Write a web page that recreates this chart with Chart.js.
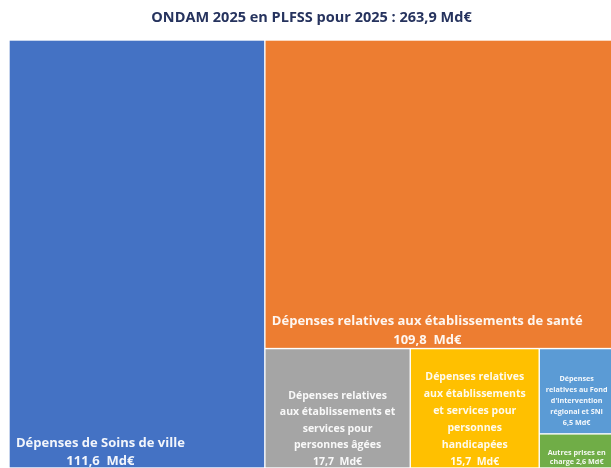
<!DOCTYPE html>
<html><head><meta charset="utf-8">
<script src="https://cdn.jsdelivr.net/npm/chart.js@4.4.1/dist/chart.umd.min.js"></script>
<style>html,body{margin:0;padding:0;background:#fff;overflow:hidden;width:611px;height:468px}canvas{display:block}</style>
</head><body>
<canvas id="c" width="614" height="468"></canvas>
<script>
// ---- data ----
const titleText = "ONDAM 2025 en PLFSS pour 2025 : 263,9 Md€";
const categories = [
  "Dépenses de Soins de ville",
  "Dépenses relatives aux établissements de santé",
  "Dépenses relatives\naux établissements et\nservices pour\npersonnes âgées",
  "Dépenses relatives\naux établissements\net services pour\npersonnes\nhandicapées",
  "Dépenses\nrelatives au Fond\nd'intervention\nrégional et SNI",
  "Autres prises en\ncharge"
];
const values = [111.6, 109.8, 17.7, 15.7, 6.5, 2.6];
const valueLabels = ["111,6  Md€", "109,8  Md€", "17,7  Md€", "15,7  Md€", "6,5 Md€", "2,6 Md€"];
const valueOnSameLine = [false, false, false, false, false, true];

// ---- styles ----
const colors = ["#4472C4", "#ED7D31", "#A5A5A5", "#FFC000", "#5B9BD5", "#70AD47"];
const fontSizes = [13, 13, 10.5, 10.5, 7.2, 7.2];
const lineHeights = [18, 19, 16.5, 17, 11, 9];
const bottomOffsets = [7, 8, 6, 6, 11, 6];
const aligns = ["left", "left", "center", "center", "center", "center"];

function worst(row, side) {
  const s = row.reduce((a, b) => a + b, 0);
  const mx = Math.max(...row), mn = Math.min(...row);
  return Math.max(side * side * mx / (s * s), (s * s) / (side * side * mn));
}
function squarify(vals, x, y, w, h) {
  const total = vals.reduce((a, b) => a + b, 0);
  const k = w * h / total;
  const areas = vals.map(v => v * k);
  const rects = [];
  let i = 0;
  while (i < areas.length) {
    const side = Math.min(w, h);
    let row = [areas[i]];
    let j = i + 1;
    while (j < areas.length) {
      const nr = row.concat(areas[j]);
      if (worst(nr, side) <= worst(row, side)) { row = nr; j++; } else break;
    }
    const sum = row.reduce((a, b) => a + b, 0);
    if (w >= h) {
      const cw = sum / h; let cy = y;
      row.forEach(a => { const rh = a / cw; rects.push({x: x, y: cy, w: cw, h: rh}); cy += rh; });
      x += cw; w -= cw;
    } else {
      const rh = sum / w; let cx = x;
      row.forEach(a => { const rw = a / rh; rects.push({x: cx, y: y, w: rw, h: rh}); cx += rw; });
      y += rh; h -= rh;
    }
    i = j;
  }
  return rects;
}

const treemapPlugin = {
  id: 'treemap',
  afterDatasetsDraw(chart) {
    const {ctx, chartArea, scales} = chart;
    const W = chartArea.right - chartArea.left, H = chartArea.bottom - chartArea.top;
    const sx = scales.x, sy = scales.y;
    const R = squarify(values, 0, 0, W, H).map(r => ({
      x0: r.x / W * 1000, x1: (r.x + r.w) / W * 1000,
      y0: r.y / H * 1000, y1: (r.y + r.h) / H * 1000
    }));
    ctx.save();
    R.forEach((r, i) => {
      const px0 = sx.getPixelForValue(r.x0), px1 = sx.getPixelForValue(r.x1);
      const py0 = sy.getPixelForValue(r.y0), py1 = sy.getPixelForValue(r.y1);
      const g = 0.7;
      ctx.fillStyle = colors[i];
      ctx.fillRect(px0 + g, py0 + g, px1 - px0 - 2 * g, py1 - py0 - 2 * g);
      let lines = categories[i].split("\n");
      if (valueOnSameLine[i]) lines[lines.length - 1] += " " + valueLabels[i];
      else lines.push(valueLabels[i]);
      const fs = fontSizes[i], lh = lineHeights[i];
      ctx.font = "bold " + fs + "px 'Open Sans', sans-serif";
      ctx.fillStyle = "rgba(255,255,255,0.93)";
      ctx.textBaseline = "middle";
      ctx.textAlign = "center";
      const bw = Math.max(...lines.map(l => ctx.measureText(l).width));
      let cx;
      if (aligns[i] === "left") cx = px0 + 7 + bw / 2;
      else cx = (px0 + px1) / 2;
      const lastY = py1 - bottomOffsets[i];
      lines.forEach((l, k) => {
        ctx.fillText(l, cx, lastY - (lines.length - 1 - k) * lh);
      });
    });
    ctx.restore();
  }
};

new Chart(document.getElementById('c'), {
  type: 'scatter',
  data: { datasets: [{ label: 'ONDAM', data: [], pointRadius: 0 }] },
  options: {
    responsive: false,
    animation: false,
    layout: { padding: { left: 9, right: 0, top: 0, bottom: 0 } },
    scales: {
      x: { type: 'linear', min: 0, max: 1000, display: false },
      y: { type: 'linear', min: 0, max: 1000, reverse: true, display: false }
    },
    plugins: {
      legend: { display: false },
      tooltip: { enabled: false },
      title: {
        display: true, text: titleText, color: '#26335e',
        font: { family: "'Open Sans', sans-serif", size: 14.5, weight: 'bold', lineHeight: 1.2 },
        padding: { top: 9, bottom: 13.6 }
      }
    }
  },
  plugins: [treemapPlugin]
});
</script>
</body></html>
